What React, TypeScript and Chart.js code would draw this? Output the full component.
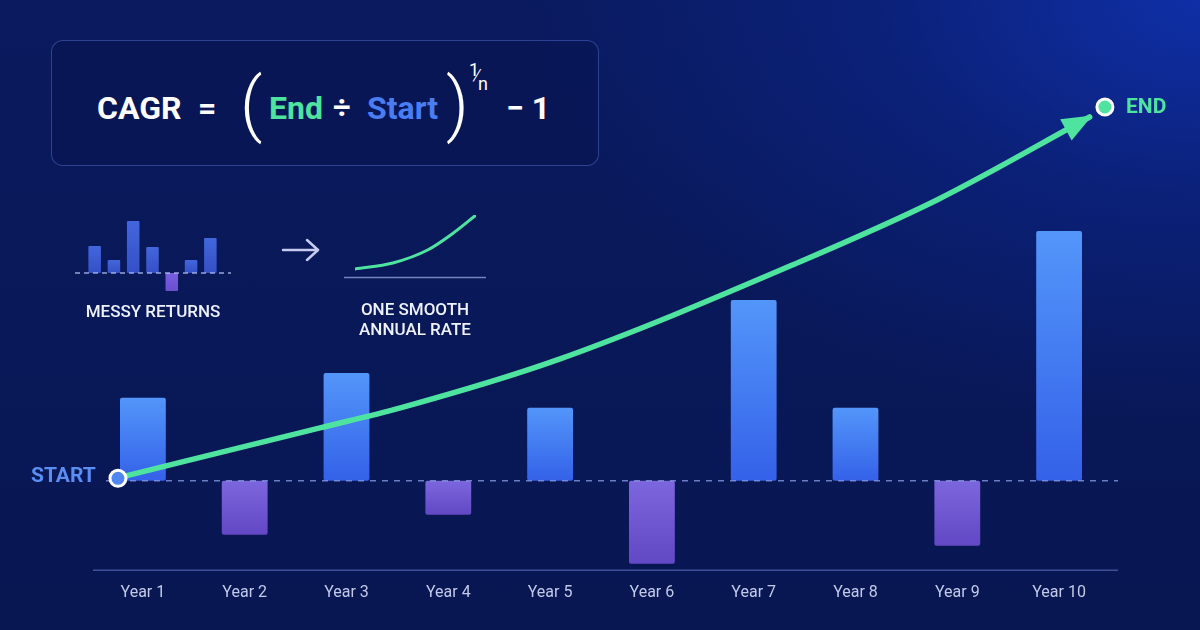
import React, { useEffect, useRef } from "react";
import { Chart, registerables } from "chart.js";

Chart.register(...registerables);

// ---------- data ----------
const years = ["Year 1", "Year 2", "Year 3", "Year 4", "Year 5", "Year 6", "Year 7", "Year 8", "Year 9", "Year 10"];
const annualReturns = [8.3, -5.4, 10.8, -3.4, 7.3, -8.3, 18.1, 7.3, -6.5, 25.0];

// smooth CAGR curve (x in year-slots, y in same units as returns)
const curveX = [0.255, 2.24, 3.03, 4.57, 6.95, 8.3, 9.8];
const curveY = [0.3, 5.3, 7.3, 12.1, 21.9, 28.1, 36.4];

const startPoint = { x: 0.255, y: 0.25 };
const endPoint = { x: 9.95, y: 37.4 };

const miniLabels = ["a", "b", "c", "d", "e", "f", "g"];
const miniReturns = [27, 13, 52, 26, -18, 13, 35];

const miniCurveX = [0, 1.25, 2.4, 3.25, 4];
const miniCurveY = [8, 14, 27, 44, 62];

// ---------- styles ----------
const GREEN = "#4fe3a0";
const BLUE = "#4f86f2";
const FONT = "Roboto, 'Noto Sans', sans-serif";

function barGradient(ctx: any, values: number[], posTop: string, posBot: string, negTop: string, negBot: string) {
  const chart = ctx.chart;
  const v = values[ctx.dataIndex];
  const ys = chart.scales && chart.scales.y;
  if (!ys || !chart.chartArea || v === undefined) return v >= 0 ? posBot : negTop;
  const y0 = ys.getPixelForValue(0);
  const y1 = ys.getPixelForValue(v);
  const g = chart.ctx.createLinearGradient(0, Math.min(y0, y1), 0, Math.max(y0, y1));
  if (v >= 0) {
    g.addColorStop(0, posTop);
    g.addColorStop(1, posBot);
  } else {
    g.addColorStop(0, negTop);
    g.addColorStop(1, negBot);
  }
  return g;
}

const mainDecor = {
  id: "mainDecor",
  beforeDatasetDraw(chart: any, args: any) {
    if (args.index !== 1) return;
    const { ctx, chartArea } = chart;
    const y0 = chart.scales.y.getPixelForValue(0);
    ctx.save();
    ctx.strokeStyle = "rgba(140,160,235,0.75)";
    ctx.lineWidth = 1.5;
    ctx.setLineDash([6, 6]);
    ctx.beginPath();
    ctx.moveTo(chartArea.left + 14, y0);
    ctx.lineTo(chartArea.right + 8, y0);
    ctx.stroke();
    ctx.restore();
  },
  afterDatasetDraw(chart: any, args: any) {
    if (args.index !== 1) return;
    const { ctx } = chart;
    const meta = chart.getDatasetMeta(1);
    const pts = meta.data;
    const tip = pts[pts.length - 1];
    const cpx = tip.cp1x !== undefined ? tip.cp1x : pts[pts.length - 2].x;
    const cpy = tip.cp1y !== undefined ? tip.cp1y : pts[pts.length - 2].y;
    const ang = Math.atan2(tip.y - cpy, tip.x - cpx);
    const len = 27;
    const half = 12;
    const bx = tip.x - Math.cos(ang) * len;
    const by = tip.y - Math.sin(ang) * len;
    ctx.save();
    ctx.fillStyle = GREEN;
    ctx.beginPath();
    ctx.moveTo(tip.x + Math.cos(ang) * 3, tip.y + Math.sin(ang) * 3);
    ctx.lineTo(bx + Math.cos(ang + Math.PI / 2) * half, by + Math.sin(ang + Math.PI / 2) * half);
    ctx.lineTo(bx - Math.cos(ang + Math.PI / 2) * half, by - Math.sin(ang + Math.PI / 2) * half);
    ctx.closePath();
    ctx.fill();
    ctx.restore();
  },
  afterDraw(chart: any) {
    const { ctx, chartArea } = chart;
    ctx.save();
    ctx.strokeStyle = "rgba(110,130,210,0.55)";
    ctx.lineWidth = 1.5;
    ctx.beginPath();
    ctx.moveTo(chartArea.left + 1, chartArea.bottom + 0.5);
    ctx.lineTo(chartArea.right + 8, chartArea.bottom + 0.5);
    ctx.stroke();
    ctx.restore();
  },
};

const miniBarDecor = {
  id: "miniBarDecor",
  afterDatasetsDraw(chart: any) {
    const { ctx, chartArea } = chart;
    const y0 = chart.scales.y.getPixelForValue(0);
    ctx.save();
    ctx.strokeStyle = "rgba(185,198,245,0.8)";
    ctx.lineWidth = 1.3;
    ctx.setLineDash([5, 4]);
    ctx.beginPath();
    ctx.moveTo(chartArea.left - 10, y0);
    ctx.lineTo(chartArea.right + 11, y0);
    ctx.stroke();
    ctx.restore();
  },
};

const miniCurveDecor = {
  id: "miniCurveDecor",
  beforeDatasetsDraw(chart: any) {
    const { ctx, chartArea } = chart;
    const y0 = chart.scales.y.getPixelForValue(0);
    ctx.save();
    ctx.strokeStyle = "rgba(160,175,230,0.7)";
    ctx.lineWidth = 1.3;
    ctx.beginPath();
    ctx.moveTo(chartArea.left - 11, y0 + 0.5);
    ctx.lineTo(chartArea.right + 10, y0 + 0.5);
    ctx.stroke();
    ctx.restore();
  },
};

function MainChart() {
  const ref = useRef<HTMLCanvasElement>(null);
  useEffect(() => {
    if (!ref.current) return;
    const chart = new Chart(ref.current, {
      type: "bar",
      data: {
        labels: years,
        datasets: [
          {
            type: "bar",
            data: annualReturns,
            order: 2,
            xAxisID: "x",
            yAxisID: "y",
            grouped: false,
            barPercentage: 0.45,
            categoryPercentage: 1,
            borderRadius: 2,
            borderSkipped: false,
            backgroundColor: (c: any) => barGradient(c, annualReturns, "#5396fa", "#3461e8", "#7c66dd", "#6248c4"),
          } as any,
          {
            type: "line",
            data: curveX.map((x, i) => ({ x, y: curveY[i] })),
            order: 1,
            xAxisID: "xc",
            yAxisID: "y",
            borderColor: GREEN,
            borderWidth: 5.5,
            pointRadius: 0,
            cubicInterpolationMode: "monotone",
            fill: false,
            borderCapStyle: "round",
            clip: false,
          } as any,
          {
            type: "scatter",
            data: [startPoint, endPoint],
            order: 0,
            xAxisID: "xc",
            yAxisID: "y",
            clip: false,
            pointRadius: 8,
            pointBorderWidth: 3,
            pointBorderColor: "#ffffff",
            pointBackgroundColor: [BLUE, GREEN],
          } as any,
        ],
      },
      options: {
        animation: false,
        responsive: false,
        maintainAspectRatio: false,
        layout: { padding: { left: 92, right: 90, top: 81, bottom: 13 } },
        plugins: { legend: { display: false }, tooltip: { enabled: false } },
        scales: {
          x: {
            type: "category",
            grid: { display: false, drawTicks: false },
            border: { display: false },
            offset: true,
            ticks: { color: "#c3cae9", padding: 14, font: { family: FONT, size: 16 } },
          },
          xc: { type: "linear", min: 0, max: 10, display: false, offset: false },
          y: { type: "linear", min: -8.9, max: 40, display: false },
        },
      } as any,
      plugins: [mainDecor],
    });
    return () => chart.destroy();
  }, []);
  return <canvas ref={ref} width={1200} height={630} style={{ position: "absolute", left: 0, top: 0, width: 1200, height: 630 }} />;
}

function MiniBars() {
  const ref = useRef<HTMLCanvasElement>(null);
  useEffect(() => {
    if (!ref.current) return;
    const chart = new Chart(ref.current, {
      type: "bar",
      data: {
        labels: miniLabels,
        datasets: [
          {
            data: miniReturns,
            barPercentage: 0.65,
            categoryPercentage: 1,
            borderRadius: 1,
            borderSkipped: false,
            backgroundColor: (c: any) => barGradient(c, miniReturns, "#4366dc", "#3550c6", "#7a5ee0", "#6a4fd0"),
          } as any,
        ],
      },
      options: {
        animation: false,
        responsive: false,
        layout: { padding: { left: 12, right: 13, top: 4, bottom: 4 } },
        plugins: { legend: { display: false }, tooltip: { enabled: false } },
        scales: {
          x: { display: false, offset: true },
          y: { display: false, min: -18, max: 52 },
        },
      } as any,
      plugins: [miniBarDecor],
    });
    return () => chart.destroy();
  }, []);
  return <canvas ref={ref} width={160} height={78} style={{ position: "absolute", left: 73, top: 217, width: 160, height: 78 }} />;
}

function MiniCurve() {
  const ref = useRef<HTMLCanvasElement>(null);
  useEffect(() => {
    if (!ref.current) return;
    const chart = new Chart(ref.current, {
      type: "line",
      data: {
        datasets: [
          {
            data: miniCurveX.map((x, i) => ({ x, y: miniCurveY[i] })),
            borderColor: GREEN,
            borderWidth: 3,
            pointRadius: 0,
            cubicInterpolationMode: "monotone",
            borderCapStyle: "round",
          } as any,
        ],
      },
      options: {
        animation: false,
        responsive: false,
        layout: { padding: { left: 15, right: 14, top: 10, bottom: 8 } },
        plugins: { legend: { display: false }, tooltip: { enabled: false } },
        scales: {
          x: { type: "linear", display: false, min: 0, max: 4 },
          y: { display: false, min: 0, max: 62 },
        },
      } as any,
      plugins: [miniCurveDecor],
    });
    return () => chart.destroy();
  }, []);
  return <canvas ref={ref} width={150} height={80} style={{ position: "absolute", left: 340, top: 205, width: 150, height: 80 }} />;
}

const abs = (s: React.CSSProperties): React.CSSProperties => ({ position: "absolute", whiteSpace: "nowrap", ...s });

export default function App() {
  return (
    <div
      style={{
        position: "fixed",
        left: 0,
        top: 0,
        width: 1200,
        height: 630,
        overflow: "hidden",
        fontFamily: FONT,
        background:
          "radial-gradient(ellipse 75% 90% at 100% 0%, rgba(15,48,170,0.95) 0%, rgba(12,38,140,0.6) 35%, rgba(10,26,92,0) 75%), linear-gradient(180deg, #0a1a5e 0%, #081652 100%)",
      }}
    >
      {/* formula box */}
      <div
        style={abs({
          left: 51,
          top: 40,
          width: 546,
          height: 124,
          borderRadius: 12,
          border: "1px solid rgba(90,120,220,0.45)",
          background: "rgba(8,20,80,0.55)",
        })}
      />
      <div style={abs({ left: 97, top: 89, fontSize: 32, fontWeight: 700, color: "#ffffff", lineHeight: "38px" })}>CAGR</div>
      <div style={abs({ left: 198, top: 89, fontSize: 32, fontWeight: 700, color: "#ffffff", lineHeight: "38px" })}>=</div>
      <div style={abs({ left: 240, top: 64, fontSize: 70, fontWeight: 300, color: "#ffffff", lineHeight: "80px" })}>(</div>
      <div style={abs({ left: 269, top: 89, fontSize: 32, fontWeight: 700, color: GREEN, lineHeight: "38px" })}>End</div>
      <div style={abs({ left: 333, top: 89, fontSize: 31, fontWeight: 700, color: "#ffffff", lineHeight: "38px" })}>÷</div>
      <div style={abs({ left: 367, top: 89, fontSize: 32, fontWeight: 700, color: "#4a7df2", lineHeight: "38px" })}>Start</div>
      <div style={abs({ left: 446, top: 64, fontSize: 70, fontWeight: 300, color: "#ffffff", lineHeight: "80px" })}>)</div>
      <div style={abs({ left: 469, top: 59, fontSize: 18, fontWeight: 400, color: "#ffffff", lineHeight: "22px" })}>1</div>
      <div style={abs({ left: 472, top: 61, fontSize: 22, fontWeight: 300, color: "#ffffff", lineHeight: "30px" })}>⁄</div>
      <div style={abs({ left: 478, top: 73, fontSize: 18, fontWeight: 400, color: "#ffffff", lineHeight: "22px" })}>n</div>
      <div style={abs({ left: 506, top: 89, fontSize: 32, fontWeight: 700, color: "#ffffff", lineHeight: "38px" })}>− 1</div>

      {/* mini illustration */}
      <MiniBars />
      <MiniCurve />
      <svg width={1200} height={630} style={{ position: "absolute", left: 0, top: 0 }}>
        <g stroke="#c6cbef" strokeWidth={2.5} fill="none" strokeLinecap="round" strokeLinejoin="round">
          <line x1={283} y1={250} x2={318} y2={250} />
          <polyline points="307,240 318,250 307,260" />
        </g>
      </svg>
      <div style={abs({ left: 53, top: 301, width: 200, textAlign: "center", fontSize: 17, fontWeight: 500, color: "#eef1ff", lineHeight: "20px" })}>
        MESSY RETURNS
      </div>
      <div style={abs({ left: 315, top: 299, width: 200, textAlign: "center", fontSize: 17, fontWeight: 500, color: "#eef1ff", lineHeight: "20px" })}>
        ONE SMOOTH
        <br />
        ANNUAL RATE
      </div>

      <MainChart />

      <div style={abs({ left: 31, top: 462, fontSize: 21, fontWeight: 700, color: "#5a8ef2", lineHeight: "26px" })}>START</div>
      <div style={abs({ left: 1126, top: 93, fontSize: 21, fontWeight: 700, color: GREEN, lineHeight: "26px" })}>END</div>
    </div>
  );
}
